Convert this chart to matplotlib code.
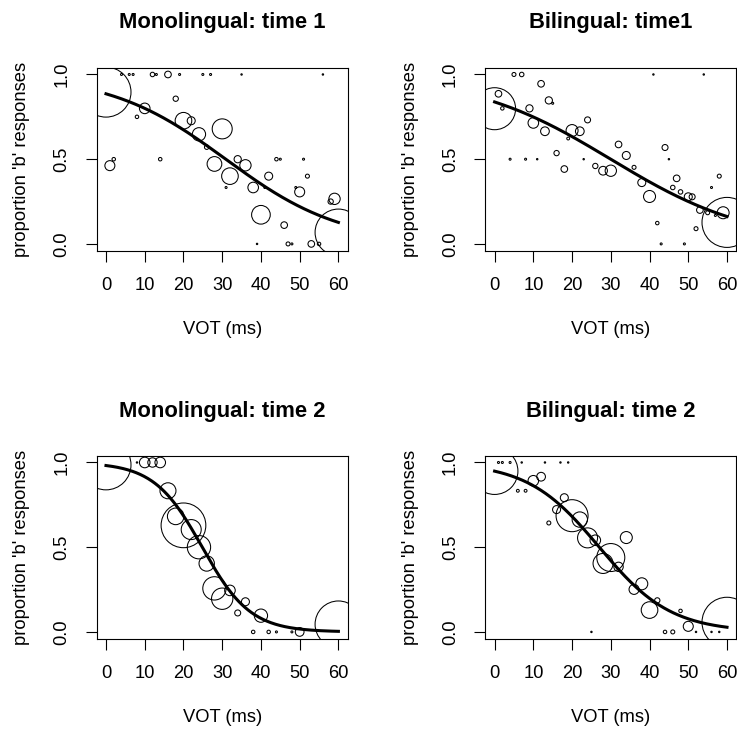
import numpy as np
import matplotlib
matplotlib.use("Agg")
import matplotlib.pyplot as plt

plt.rcParams['font.family'] = ['Liberation Sans', 'DejaVu Sans']

# ---------------- data ----------------
titles = ["Monolingual: time 1", "Bilingual: time1", "Monolingual: time 2", "Bilingual: time 2"]
x_label = "VOT (ms)"
y_label = "proportion 'b' responses"
x_ticks = [0, 10, 20, 30, 40, 50, 60]
y_ticks = [0.0, 0.5, 1.0]
y_tick_labels = ["0.0", "0.5", "1.0"]

# Monolingual time 1
mono1_vot = [0, 1, 2, 4, 6, 7, 12, 13, 16, 19, 25, 27, 35, 56, 8, 10, 18, 20, 22, 24, 30, 26, 14, 28,
             32, 34, 36, 31, 38, 42, 41, 40, 39, 44, 45, 51, 52, 49, 50, 46, 47, 48, 53, 55, 58, 59, 60]
mono1_prop = [0.896, 0.462, 0.50, 1, 1, 1, 1, 1, 1, 1, 1, 1, 1, 1, 0.75, 0.80, 0.857, 0.727, 0.727, 0.647,
              0.679, 0.571, 0.50, 0.472, 0.40, 0.50, 0.464, 0.333, 0.333, 0.40, 0.333, 0.172, 0.0, 0.5,
              0.5, 0.5, 0.40, 0.333, 0.307, 0.111, 0.0, 0.0, 0.0, 0.0, 0.25, 0.266, 0.068]
mono1_n = [625, 25, 3, 1, 1, 1, 5, 1, 11, 1, 1, 1, 0.5, 0.5, 3, 28, 7, 69, 16, 44, 100, 5, 3, 54,
           69, 13, 32, 1, 28, 16, 1, 87, 0.5, 3, 1, 1, 4, 1, 25, 11, 4, 1, 11, 3, 7, 32, 544]
mono1_coef = (2.05, -0.0663)

# Bilingual time 1
bi1_vot = [0, 1, 2, 5, 7, 12, 14, 15, 9, 10, 13, 4, 8, 11, 16, 18, 19, 20, 22, 24, 23, 26, 28, 30,
           32, 34, 36, 38, 40, 42, 41, 43, 44, 45, 47, 46, 48, 49, 50, 51, 52, 53, 54, 55, 56, 57,
           58, 59, 60]
bi1_prop = [0.798, 0.886, 0.80, 1, 1, 0.945, 0.847, 0.83, 0.80, 0.714, 0.665, 0.5, 0.5, 0.5, 0.536,
            0.442, 0.622, 0.669, 0.665, 0.732, 0.5, 0.46, 0.432, 0.432, 0.587, 0.522, 0.452, 0.362,
            0.28, 0.123, 1, 0.0, 0.569, 0.5, 0.387, 0.333, 0.307, 0.0, 0.278, 0.278, 0.09, 0.20, 1,
            0.184, 0.333, 0.168, 0.40, 0.184, 0.127]
bi1_n = [441, 11, 3, 4, 5, 11, 13, 1, 13, 28, 19, 1, 1, 0.5, 7, 11, 2, 36, 19, 9, 0.5, 7, 19, 32,
         11, 16, 4, 16, 36, 3, 0.5, 1, 9, 0.5, 11, 5, 5, 1, 16, 9, 4, 11, 0.5, 4, 1, 1, 4, 36, 625]
bi1_coef = (1.643, -0.0548)

# Monolingual time 2
mono2_vot = [0, 8, 10, 12, 14, 16, 18, 20, 22, 24, 26, 28, 30, 32, 36, 34, 40, 38, 42, 44, 48, 50, 60]
mono2_prop = [0.986, 1, 1, 1, 1, 0.833, 0.682, 0.629, 0.604, 0.50, 0.404, 0.257, 0.196, 0.245, 0.178,
              0.112, 0.096, 0.0, 0.0, 0.0, 0.0, 0.0, 0.045]
mono2_n = [625, 0.5, 28, 22, 28, 64, 69, 500, 100, 136, 59, 136, 114, 28, 16, 9, 44, 3, 3, 1, 1, 19, 544]
mono2_coef = (4.0, -0.161)

# Bilingual time 2
bi2_vot = [0, 1, 2, 4, 7, 13, 17, 19, 6, 8, 10, 12, 14, 16, 18, 20, 22, 24, 26, 25, 30, 28, 32, 34,
           36, 38, 40, 42, 44, 46, 48, 50, 52, 56, 58, 60]
bi2_prop = [0.949, 1, 1, 1, 1, 1, 1, 1, 0.833, 0.833, 0.892, 0.916, 0.643, 0.722, 0.792, 0.686, 0.663,
            0.555, 0.541, 0.0, 0.439, 0.404, 0.384, 0.557, 0.251, 0.284, 0.129, 0.186, 0.0, 0.0,
            0.124, 0.033, 0.0, 0.0, 0.0, 0.057]
bi2_n = [544, 1, 1, 1, 0.5, 0.5, 0.5, 0.5, 2, 2, 28, 19, 4, 16, 16, 256, 59, 100, 28, 0.5, 196, 100,
         22, 36, 25, 36, 69, 7, 3, 4, 3, 25, 0.5, 0.5, 0.5, 625]
bi2_coef = (2.92, -0.108)

panels = [
    (mono1_vot, mono1_prop, mono1_n, mono1_coef),
    (bi1_vot, bi1_prop, bi1_n, bi1_coef),
    (mono2_vot, mono2_prop, mono2_n, mono2_coef),
    (bi2_vot, bi2_prop, bi2_n, bi2_coef),
]

# ---------------- layout ----------------
W, H, DPI = 737, 729, 100
fig = plt.figure(figsize=(W / DPI, H / DPI), dpi=DPI)
fig.patch.set_facecolor("white")

box_w, box_h = 251.0, 183.0
lefts = [96.7, 485.3, 96.7, 485.3]
tops = [67.7, 67.7, 455.7, 455.7]

TICK_FS = 13.2
TITLE_FS = 15.8
px2pt = 72.0 / DPI

for i, (vot, prop, n, coef) in enumerate(panels):
    l, t = lefts[i], tops[i]
    ax = fig.add_axes([l / W, 1 - (t + box_h) / H, box_w / W, box_h / H])
    ax.set_xlim(-2.4, 62.4)
    ax.set_ylim(-0.04, 1.04)

    r_px = np.sqrt(np.asarray(n, dtype=float))
    s = (2 * r_px * px2pt) ** 2
    ax.scatter(vot, prop, s=s, facecolors="none", edgecolors="black", linewidths=0.75, zorder=2)

    xs = np.linspace(0, 60, 300)
    b0, b1 = coef
    ys = 1.0 / (1.0 + np.exp(-(b0 + b1 * xs)))
    ax.plot(xs, ys, color="black", lw=2.2, zorder=3)

    for sp in ax.spines.values():
        sp.set_linewidth(0.8)
        sp.set_color("black")

    ax.set_xticks(x_ticks)
    ax.set_xticklabels([str(v) for v in x_ticks])
    ax.set_yticks(y_ticks)
    ax.set_yticklabels(y_tick_labels)
    ax.tick_params(axis="both", direction="out", length=8, width=0.8, labelsize=TICK_FS,
                   pad=11, colors="black")
    for lab in ax.get_yticklabels():
        lab.set_rotation(90)
        lab.set_va("center")
        lab.set_ha("right")

    ax.text(0.5, 1 + 44.7 / box_h, titles[i], transform=ax.transAxes, ha="center", va="center",
            fontsize=TITLE_FS, fontweight="bold")
    ax.text(0.5, -79.3 / box_h, x_label, transform=ax.transAxes, ha="center", va="center",
            fontsize=TICK_FS)
    ax.text(-75.0 / box_w, 0.5, y_label, transform=ax.transAxes, ha="center", va="center",
            rotation=90, fontsize=TICK_FS)

fig.savefig("out.png", dpi=DPI, facecolor="white")
